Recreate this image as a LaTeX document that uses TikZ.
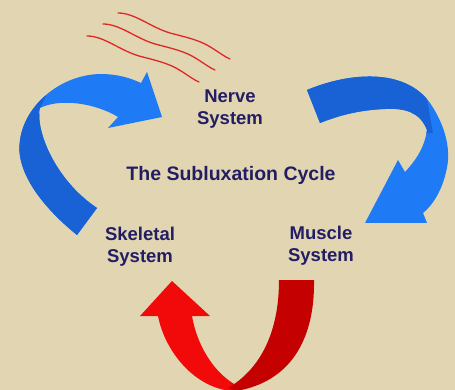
\documentclass[tikz,border=0pt]{standalone}
\usepackage{fontspec}
\setmainfont{Liberation Sans}
\definecolor{bg}{RGB}{226,214,178}
\definecolor{navy}{RGB}{35,30,100}
\definecolor{blueA}{RGB}{30,122,245}
\definecolor{blueB}{RGB}{24,98,214}
\definecolor{redA}{RGB}{242,10,10}
\definecolor{redB}{RGB}{196,0,0}
\definecolor{wave}{RGB}{222,40,40}
\tikzset{
  lbl/.style={text=navy, font=\fontsize{18.5}{22}\selectfont\bfseries, align=center, inner sep=0pt},
  wavy/.style={draw=wave, line width=1.3pt, line cap=round},
}
\begin{document}
\begin{tikzpicture}[x=1pt,y=-1pt]
\fill[bg] (0,0) rectangle (455,390);
\useasboundingbox (0,0) rectangle (455,390);
% wavy lines
\foreach \dx/\dy [count=\i] in {0/0,-15/11,-31/23}{
  \draw[wavy, shift={(\dx,\dy)}] (118,13) .. controls (135,13) and (150,27) .. (170,33) .. controls (185,37) and (200,40) .. (212,48) .. controls (220,53) and (225,57) .. (230,59);
}
% left blue arrow
\def\leftarrowpath{(77,235) .. controls (40,205) and (15,170) .. (20,140) .. controls (25,105) and (60,75) .. (100,74) .. controls (118,74) and (130,78) .. (141,83) -- (147,72) -- (162,117) -- (108,128) -- (118,117) .. controls (95,103) and (60,98) .. (40,108) .. controls (35,130) and (55,180) .. (97,208) -- cycle}
\fill[blueA] \leftarrowpath;
\begin{scope}
  \clip \leftarrowpath;
  \fill[blueB] (-10,400) -- (-10,90) -- (46,96) -- (38,112) -- (150,260) -- cycle;
\end{scope}
% right blue arrow
\def\rightarrowpath{(307,90) .. controls (350,72) and (405,68) .. (430,103) .. controls (445,125) and (452,150) .. (446,172) .. controls (442,190) and (433,205) .. (423,213) -- (427,223) -- (365,223) -- (398,160) -- (405,172) .. controls (418,158) and (425,145) .. (427,130) .. controls (420,112) and (405,108) .. (385,109) .. controls (360,110) and (340,115) .. (320,123) -- cycle}
\fill[blueA] \rightarrowpath;
\begin{scope}
  \clip \rightarrowpath;
  \fill[blueB] (290,50) -- (427,50) -- (427,100) -- (433,133) -- (290,140) -- cycle;
\end{scope}
% red arrow
\fill[redA] (232,391) .. controls (195,388) and (165,352) .. (158,316) -- (140,316) -- (172,281) -- (210,316) -- (192,316) .. controls (198,350) and (218,378) .. (242,388) -- cycle;
\fill[redB] (279,280) -- (314,280) .. controls (315,340) and (290,382) .. (236,391) -- (228,388) .. controls (262,368) and (279,330) .. (279,280) -- cycle;
% labels
\node[lbl] (nerve) at (230,109) {Nerve\\System};
\node[lbl, anchor=base, font=\fontsize{19.5}{22}\selectfont\bfseries] (title) at (231,181) {The Subluxation Cycle};
\node[lbl] (skeletal) at (140,247) {Skeletal\\System};
\node[lbl] (muscle) at (321,246) {Muscle\\System};
\end{tikzpicture}
\end{document}
